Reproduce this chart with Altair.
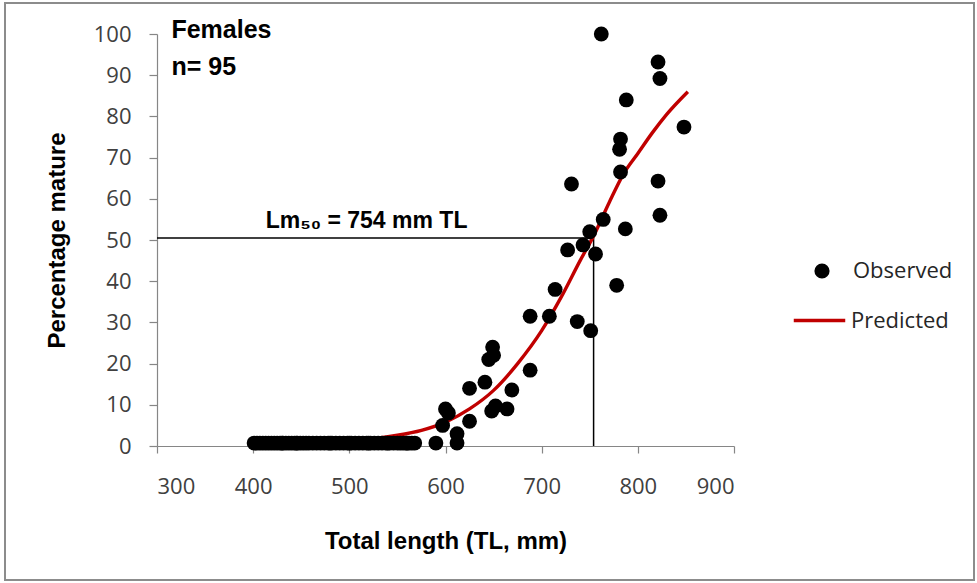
import altair as alt
import pandas as pd

# Observed points (total length mm, percentage mature)
obs_x = [401, 404, 407, 410, 413, 416, 419, 422, 425, 428, 431, 434, 437, 440,
         443, 446, 449, 452, 455, 458, 462, 466, 470, 474, 478, 482, 486, 490,
         494, 498, 502, 506, 510, 514, 518, 522, 526, 530, 534, 538, 542, 546,
         550, 553, 556, 559, 562, 565, 568, 520, 480, 445, 430, 500, 540, 560,
         590, 597, 600, 603, 612, 612, 625, 625, 641, 645, 649, 650, 648, 652,
         664, 669, 688, 688, 708, 714, 727, 731, 737, 743, 750, 751, 756, 764,
         762, 778, 781, 782, 782, 787, 788, 821, 823, 821, 823, 848]
obs_y = [0.7] * 56 + [
         0.7, 5, 9, 8, 0.7, 3, 6, 14, 15.5, 21, 24, 22, 8.5, 9.7,
         9, 13.6, 18.4, 31.5, 31.5, 38, 47.6, 63.6, 30.2, 48.8, 52, 28, 46.6, 55,
         100, 39, 72, 74.5, 66.5, 52.7, 84, 93.2, 89.2, 64.3, 56, 77.4]

# Predicted maturity curve
pred_x = [400, 425, 450, 475, 500, 525, 550, 575, 600, 625, 650, 675, 700,
          720, 740, 754, 770, 785, 800, 815, 830, 852]
pred_y = [0.5, 0.6, 0.8, 1.0, 1.3, 1.8, 2.6, 3.8, 5.8, 9.0, 13.5, 20, 28,
          36, 45, 51, 59, 66, 71, 76, 80.5, 86]

lm50 = 754
lm50_pct = 50.5

ann_text = ["Females", "n= 95", "Lm₅₀ = 754 mm TL"]
ann_x = [315, 315, 413]
ann_y = [101, 92, 54.5]
ann_size = [25, 25, 23]

obs = pd.DataFrame({"x": obs_x, "y": obs_y, "label": "Observed"})
pred = pd.DataFrame({"x": pred_x, "y": pred_y, "label": "Predicted"})
ann = pd.DataFrame({"t": ann_text, "x": ann_x, "y": ann_y, "s": ann_size})
hline = pd.DataFrame({"x": [300], "x2": [lm50], "y": [lm50_pct]})
vline = pd.DataFrame({"x": [lm50], "y": [0], "y2": [lm50_pct]})

xscale = alt.Scale(domain=[300, 900], nice=False, zero=False)
yscale = alt.Scale(domain=[0, 100], nice=False)

xaxis = alt.Axis(values=[300, 400, 500, 600, 700, 800, 900], grid=False,
                 title="Total length (TL, mm)", tickSize=7, labelPadding=23,
                 titlePadding=32)
yaxis = alt.Axis(values=list(range(0, 101, 10)), grid=False,
                 title="Percentage mature", tickSize=8, labelPadding=18,
                 titlePadding=24)

frame = alt.Chart(pd.DataFrame({"a": [0]})).mark_rect(
    fill=None, stroke="#8c8c8c", strokeWidth=2
).encode(x=alt.value(-152), x2=alt.value(817), y=alt.value(-31), y2=alt.value(546))

h = alt.Chart(hline).mark_rule(color="black", strokeWidth=1.5).encode(
    x=alt.X("x:Q", scale=xscale, axis=xaxis), x2="x2:Q",
    y=alt.Y("y:Q", scale=yscale, axis=yaxis))
v = alt.Chart(vline).mark_rule(color="black", strokeWidth=1.5).encode(
    x=alt.X("x:Q", scale=xscale), y=alt.Y("y:Q", scale=yscale), y2="y2:Q")

points = alt.Chart(obs).mark_point(filled=True, size=220, opacity=1, color="black").encode(
    x=alt.X("x:Q", scale=xscale),
    y=alt.Y("y:Q", scale=yscale),
    shape=alt.Shape("label:N", scale=alt.Scale(domain=["Observed"], range=["circle"]),
                    legend=alt.Legend(title=None, orient="none", legendX=654, legendY=226,
                                      padding=0, symbolSize=230, symbolFillColor="black",
                                      symbolStrokeColor="black", symbolStrokeWidth=0,
                                      labelFont="Open Sans", labelFontSize=22,
                                      labelColor="#262626", labelOffset=20)))

line = alt.Chart(pred).mark_line(strokeWidth=3.4, interpolate="monotone").encode(
    x=alt.X("x:Q", scale=xscale),
    y=alt.Y("y:Q", scale=yscale),
    color=alt.Color("label:N", scale=alt.Scale(domain=["Predicted"], range=["#C00000"]),
                    legend=alt.Legend(title=None, orient="none", legendX=635, legendY=259,
                                      padding=0, symbolType="stroke", symbolSize=2650,
                                      symbolStrokeWidth=3.4, symbolStrokeColor="#C00000",
                                      labelFont="Open Sans", labelFontSize=22,
                                      labelColor="#262626", labelOffset=4)))

texts = alt.Chart(ann).mark_text(font="Liberation Sans", fontWeight="bold",
                                 align="left", baseline="middle", color="black").encode(
    x=alt.X("x:Q", scale=xscale), y=alt.Y("y:Q", scale=yscale), text="t:N",
    size=alt.Size("s:Q", scale=None, legend=None))

chart = alt.layer(frame, h, v, line, points, texts).properties(
    width=577, height=412,
    autosize=alt.AutoSizeParams(type="none"),
    padding={"left": 157, "top": 34, "right": 243, "bottom": 137},
    background="white",
).configure_view(stroke=None).configure_axis(
    domainColor="#868686", tickColor="#868686", domainWidth=1.2, tickWidth=1.2,
    labelFont="Open Sans", labelFontSize=22, labelColor="#404040",
    titleFont="Liberation Sans", titleFontSize=24, titleFontWeight="bold",
    titleColor="black"
)

chart.save("out.html", embed_options={"renderer": "svg", "actions": False})
